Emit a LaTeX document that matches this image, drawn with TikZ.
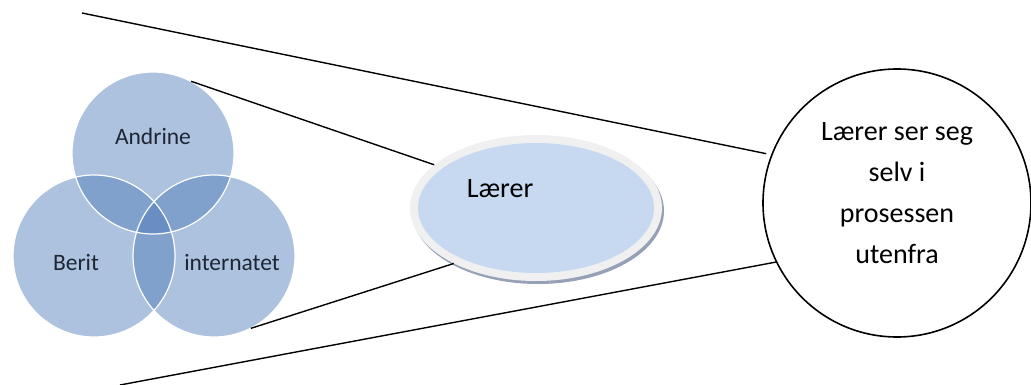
\documentclass[tikz,border=0pt]{standalone}
\usepackage{fontspec}
\setmainfont{Carlito}
\usetikzlibrary{shapes.geometric,shadows}

\definecolor{vennblue}{RGB}{74,120,184}
\definecolor{venntext}{RGB}{30,38,52}
\definecolor{laererblue}{RGB}{198,217,241}
\definecolor{laererrim}{RGB}{240,240,240}
\definecolor{laerershadow}{RGB}{150,160,182}

\tikzset{
  venn/.style={circle, minimum size=162pt, inner sep=0pt, fill=vennblue, fill opacity=0.45},
  vennlabel/.style={text=venntext, font=\fontsize{23.5}{27}\selectfont},
  bigtext/.style={align=center, font=\fontsize{28}{41}\selectfont},
  link/.style={line width=1.4pt},
}

\begin{document}
\begin{tikzpicture}[x=1pt, y=-1pt]
    \useasboundingbox (0,0) rectangle (1031,385);

    %% Venn diagram
    % Circles
    \node[venn] (andrine) at (153,153) {};
    \node[venn] (berit) at (94,256) {};
    \node[venn] (internatet) at (214,256) {};
    \foreach \n in {andrine,berit,internatet}
        \draw[white, line width=1.2pt] (\n.center) circle[radius=81pt];

    % Labels
    \node[vennlabel] (andrinetext) at (153,136) {Andrine};
    \node[vennlabel] (berittext) at (76,263) {Berit};
    \node[vennlabel] (internatettext) at (232,263) {internatet};

    %% Teacher ellipse
    \node[ellipse, minimum width=252pt, minimum height=146pt, fill=laererrim,
          drop shadow={shadow xshift=2pt, shadow yshift=-3pt, fill=laerershadow, opacity=1}] (laerer) at (536,208) {};
    \node[ellipse, minimum width=236pt, minimum height=130pt, fill=laererblue] (laererinner) at (laerer.center) {};
    \node[font=\fontsize{28}{32}\selectfont] (laerertext) at (500,189) {Lærer};

    %% Outside view
    \node[circle, draw, line width=1.6pt, minimum size=268pt] (selv) at (897,203) {};
    \node[bigtext] (selvtext) at (897,193) {Lærer ser seg\\selv i\\prosessen\\utenfra};

    %% Connectors
    \coordinate (topend) at (82,13);
    \coordinate (bottomend) at (120,385);
    \draw[link, shorten >=5pt] (topend) -- (selv.159);
    \draw[link] (andrine.62) -- (laerer.157);
    \draw[link] (internatet.-63) -- (laerer.214);
    \draw[link] (bottomend) -- (selv.206);

\end{tikzpicture}
\end{document}
